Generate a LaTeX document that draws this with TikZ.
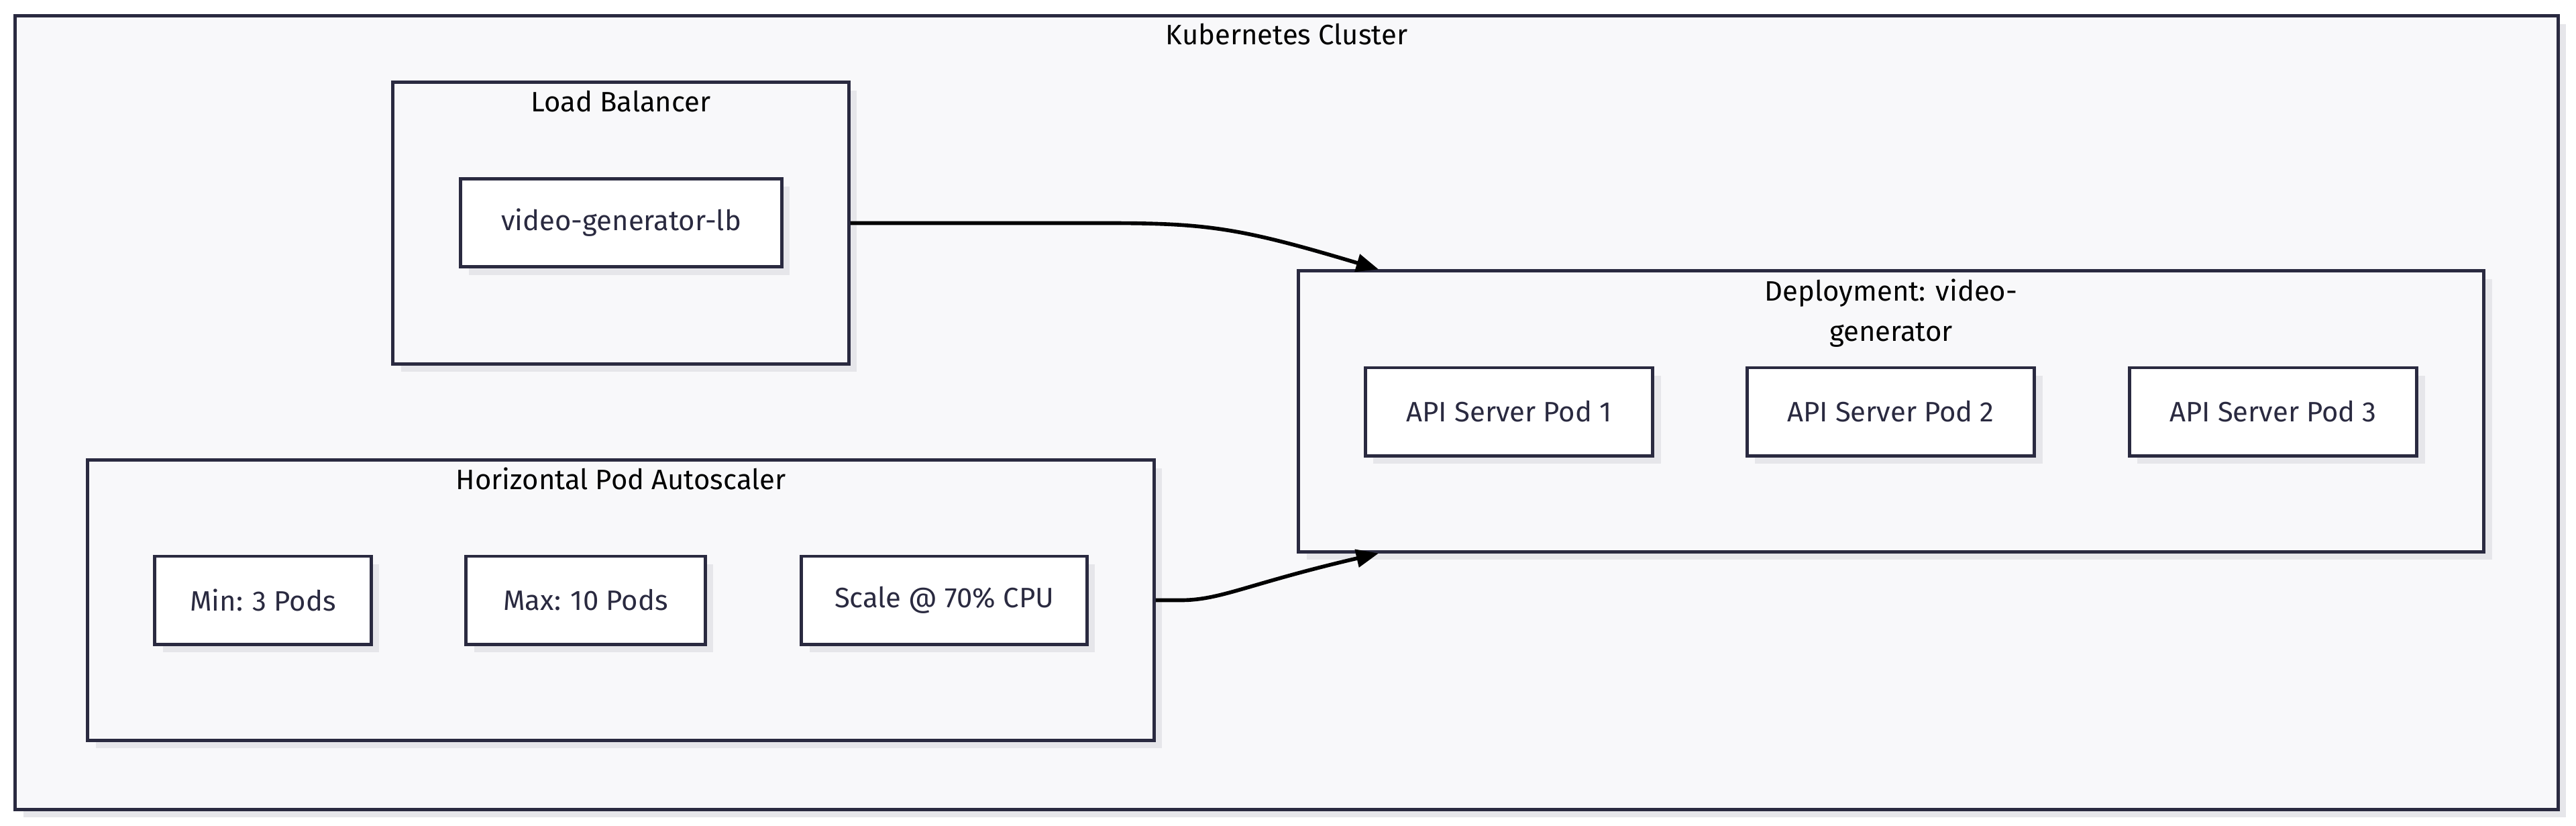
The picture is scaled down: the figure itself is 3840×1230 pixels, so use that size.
\documentclass[tikz,border=0pt]{standalone}
\usepackage{fontspec}
\setmainfont{Fira Sans}
\usetikzlibrary{arrows.meta,shadows,positioning}
\definecolor{ink}{HTML}{2A2A40}
\definecolor{clbg}{HTML}{F8F8FA}
\definecolor{shd}{HTML}{E6E6EA}
\begin{document}
\begin{tikzpicture}[x=0.01cm,y=-0.01cm,font=\fontsize{11.9}{17}\selectfont,
  shd/.style={drop shadow={shadow xshift=0.12cm,shadow yshift=-0.12cm,fill=shd,opacity=1}},
  grp/.style={draw=ink,line width=1.4pt,fill=clbg,shd,inner sep=0pt},
  box/.style={draw=ink,line width=1.4pt,fill=white,text=ink,shd,inner sep=0pt,minimum height=1.31cm},
  ttl/.style={anchor=base,text=black,align=center},
  flow/.style={line width=1.6pt,-{Triangle[length=9.5pt,width=7.5pt]}}]
\useasboundingbox[fill=white](0,0)rectangle(3840,1230);
\node[grp,minimum width=37.88cm,minimum height=11.82cm](k8s)at(1918,615){};
\node[ttl](k8st)at(1918,67){Kubernetes Cluster};
\node[grp,minimum width=6.79cm,minimum height=4.19cm](lbgrp)at(925.5,332.5){};
\node[ttl](lbt)at(925.5,166){Load Balancer};
\node[box,minimum width=4.78cm](lb)at(926,332){video-generator-lb};
\node[grp,minimum width=15.89cm,minimum height=4.17cm](hpa)at(925.5,894.5){};
\node[ttl](hpat)at(925.5,729){Horizontal Pod Autoscaler};
\node[box,minimum width=3.22cm](hmin)at(392,894.5){Min: 3 Pods};
\node[box,minimum width=3.56cm](hmax)at(873,894.5){Max: 10 Pods};
\node[box,minimum width=4.25cm](hcpu)at(1407.5,894.5){Scale @ 70\% CPU};
\node[grp,minimum width=17.66cm,minimum height=4.18cm](dep)at(2819,613){};
\node[ttl](dept)at(2819,508){Deployment: video-\\generator};
\foreach \i/\u in {1/2249.5,2/2818.5,3/3388.5}
\node[box,minimum width=4.28cm](pod\i)at(\u,613.5){API Server Pod \i};
\draw[flow](lbgrp.east)--(1650,332.5)..controls(1800,332.5)and(1850,340)..([xshift=1.22cm]dep.north west);
\draw[flow](hpa.east)--(1760,894.5)..controls(1820,894.5)and(1860,870)..([xshift=1.22cm]dep.south west);
\end{tikzpicture}
\end{document}
